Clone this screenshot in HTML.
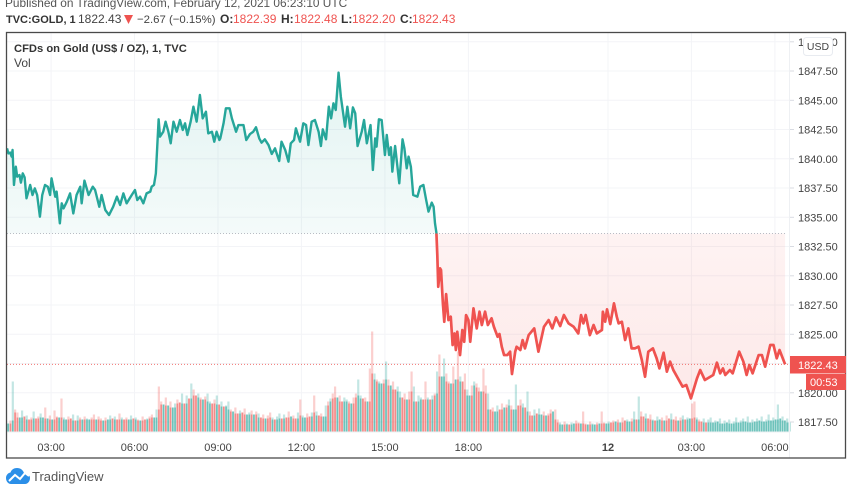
<!DOCTYPE html>
<html lang="en">
<head>
<meta charset="utf-8">
<title>CFDs on Gold</title>
<style>
html,body{margin:0;padding:0;background:#fff;}
body{width:852px;height:485px;overflow:hidden;position:relative;font-family:"Liberation Sans",sans-serif;}
svg{position:absolute;left:0;top:0;}
text{font-family:"Liberation Sans",sans-serif;}
</style>
</head>
<body>
<svg id="chart" width="852" height="485" viewBox="0 0 852 485">
  <defs>
    <linearGradient id="tealFill" gradientUnits="userSpaceOnUse" x1="0" y1="72" x2="0" y2="234">
      <stop offset="0" stop-color="#26a69a" stop-opacity="0.13"/>
      <stop offset="1" stop-color="#26a69a" stop-opacity="0.05"/>
    </linearGradient>
    <linearGradient id="redFill" gradientUnits="userSpaceOnUse" x1="0" y1="234" x2="0" y2="400">
      <stop offset="0" stop-color="#ef5350" stop-opacity="0.07"/>
      <stop offset="1" stop-color="#ef5350" stop-opacity="0.13"/>
    </linearGradient>
    <clipPath id="aboveBase"><rect id="aboveRect" x="7" y="33" width="782" height="200"/></clipPath>
    <clipPath id="belowBase"><rect id="belowRect" x="7" y="233" width="782" height="198"/></clipPath>
  </defs>

  <text x="5" y="7" font-size="11.85" fill="#555">Published on TradingView.com, February 12, 2021 06:23:10 UTC</text>
  <g font-size="12">
    <text x="6" y="23" font-size="11" font-weight="bold" fill="#333">TVC:GOLD, 1</text>
    <text x="78" y="23" fill="#444">1822.43</text>
    <path d="M124 15h9l-4.500 9z" fill="#ef5350"/>
    <text x="137" y="23" font-size="11.400" fill="#444">−2.67 (−0.15%)</text>
    <text x="220" y="23" font-weight="bold" fill="#333">O:</text>
    <text x="233" y="23" fill="#ef5350">1822.39</text>
    <text x="281" y="23" font-weight="bold" fill="#333">H:</text>
    <text x="294" y="23" fill="#ef5350">1822.48</text>
    <text x="341" y="23" font-weight="bold" fill="#333">L:</text>
    <text x="352" y="23" fill="#ef5350">1822.20</text>
    <text x="400" y="23" font-weight="bold" fill="#333">C:</text>
    <text x="412" y="23" fill="#ef5350">1822.43</text>
  </g>

  <g id="grid"></g>
  <g id="volumes"></g>
  <path id="areaTeal" fill="url(#tealFill)" clip-path="url(#aboveBase)"/>
  <path id="areaRed" fill="url(#redFill)" clip-path="url(#belowBase)"/>
  <line id="baseLine" x1="7" x2="786" stroke="#b8bcc4" stroke-width="1" stroke-dasharray="1 2"/>
  <line id="lastLine" x1="7" x2="789" stroke="#ef5350" stroke-opacity="0.8" stroke-width="1" stroke-dasharray="1 2"/>
  <path id="lineTeal" fill="none" stroke="#26a69a" stroke-width="2.400" stroke-linejoin="round" clip-path="url(#aboveBase)"/>
  <path id="lineRed" fill="none" stroke="#ef5350" stroke-width="2.700" stroke-linejoin="round" clip-path="url(#belowBase)"/>

  <line x1="789.500" x2="789.500" y1="33" y2="458" stroke="#eef0f3" stroke-width="1"/>
  <line x1="7" x2="789" y1="432" y2="432" stroke="#eef0f3" stroke-width="1"/>
  <g id="priceAxis"></g>
  <g id="timeAxis"></g>

  <rect x="6.500" y="32.500" width="839" height="425.500" fill="none" stroke="#4a4a4a" stroke-width="1.300"/>

  <text x="14" y="52" font-size="11.200" font-weight="bold" fill="#333">CFDs on Gold (US$ / OZ), 1, TVC</text>
  <text x="14" y="67" font-size="12" fill="#444">Vol</text>

  <g>
    <rect x="803.500" y="37.500" width="29" height="18" rx="3" fill="#fff" stroke="#e8ebf0"/>
    <text x="818" y="50" font-size="10.500" fill="#444" text-anchor="middle">USD</text>
  </g>

  <g>
    <rect x="790" y="356" width="56" height="17.500" fill="#ef5350"/>
    <text x="798" y="369" font-size="11" fill="#fff">1822.43</text>
    <rect x="806" y="374" width="40" height="16" fill="#ef5350"/>
    <text x="810" y="386" font-size="11" fill="#fff">00:53</text>
  </g>

  <g>
    <path d="M6 478c0-3 2-5 4.500-5.500C11.500 469.500 14 468 17 468c3.500 0 6 2 7 5 3 0 6 2 6 5 0 3-2 6-5 6H11c-3 0-5-3-5-6z" fill="#2b8fe8"/>
    <path d="M9 481l6-6 5 4 5-6 4 3" fill="none" stroke="#fff" stroke-width="2"/>
    <text x="32" y="481" font-size="13" fill="#555">TradingView</text>
  </g>
</svg>

<script>
// Chart values
const priceMinutes = [0,3,7,10,12,15,19,22,27,30,34,38,42,50,55,60,65,71,76,82,88,93,96,104,107,114,118,122,129,136,143,150,158,161,167,176,185,190,199,204,212,220,229,237,244,251,258,269,276,281,287,294,301,309,312,317,321,324,327,330,337,342,348,353,359,366,373,379,384,389,396,402,409,416,422,429,434,442,447,452,458,
460,467,472,480,485,494,499,510,516,524,531,537,544,549,556,564,571,578,587,592,600,607,612,619,623,632,639,645,650,657,664,672,677,681,688,694,699,704,709,715,720,729,734,740,746,751,756,765,770,776,784,789,794,797,802,808,815,819,824,828,831,837,846,853,857,862,866,871,876,885,891,898,904,909,916,920,923,926,
928,930,934,936,940,943,947,952,957,961,965,968,971,977,982,986,990,995,999,1006,1013,1019,1024,1031,1037,1045,1050,1058,1062,1067,1072,1079,1085,1089,1096,1099,1107,1112,1117,1125,1137,1146,1158,1168,1176,1184,1193,1201,1211,1222,1232,1238,1243,1248,1257,1265,1272,1283,1285,1290,1294,1301,1309,1315,
1319,1326,1333,1340,1347,1354,1362,1369,1376,1383,1393,1401,1407,1416,1423,1430,1437,1447,1457,1465,1475,1488,1495,1505,1523,1531,1538,1544,1549,1559,1565,1579,1588,1595,1601,1608,1621,1628,1635,1646,1653,1660,1666,1673,1678];

const priceValues = [1840.89,1840.46,1840.52,1840.18,1840.75,1837.76,1839.32,1838.47,1838.61,1837.96,1838.75,1838.41,1836.62,1837.76,1836.90,1837.47,1836.90,1835.05,1836.90,1837.76,1837.61,1836.90,1838.33,1836.76,1837.19,1834.48,1836.19,1835.76,1836.33,1837.04,1835.33,1836.90,1837.61,1836.19,1838.13,1836.90,1837.61,1837.33,1835.90,1836.90,1835.62,1835.19,1835.90,1836.76,1836.05,1837.04,1836.19,1836.90,1837.33,1836.47,1836.76,1836.19,1837.04,1837.19,1837.61,1837.76,1838.75,1841.03,1843.37,1841.89,1842.31,1843.17,1842.31,1841.32,1843.17,1842.31,1843.31,1842.46,1843.03,1842.03,1843.17,1844.45,1843.17,1845.45,1843.45,1844.02,1842.17,1842.31,1841.46,1842.31,1841.60,
1841.74,1843.03,1844.31,1844.31,1843.45,1842.31,1842.88,1842.88,1841.60,1842.11,1842.31,1842.69,1841.74,1841.37,1841.66,1841.17,1840.41,1840.89,1839.81,1841.46,1840.75,1839.75,1841.32,1841.60,1842.60,1841.46,1843.03,1842.88,1841.17,1843.17,1843.31,1842.31,1841.09,1842.51,1841.66,1844.45,1843.45,1844.74,1844.17,1847.36,1845.30,1842.74,1844.45,1842.60,1844.39,1843.88,1841.09,1842.31,1843.31,1841.32,1842.88,1839.04,1841.74,1841.03,1843.37,1843.31,1840.32,1842.03,1840.32,1840.98,1838.90,1841.09,1837.90,1841.66,1840.89,1839.18,1840.18,1839.32,1836.90,1836.76,1837.61,1837.76,1836.47,1835.48,1836.25,1835.90,1834.48,1833.68,
1831.77,1829.06,1830.63,1830.49,1827.64,1826.07,1828.43,1826.21,1826.50,1824.08,1825.07,1823.65,1825.22,1823.22,1825.36,1824.36,1826.64,1826.21,1824.36,1827.21,1825.50,1826.93,1825.79,1826.93,1825.79,1826.36,1825.64,1824.79,1825.02,1823.93,1823.22,1823.22,1823.51,1821.60,1823.51,1823.93,1823.65,1824.50,1823.79,1824.93,1825.50,1823.51,1825.64,1826.21,1825.50,1826.44,1825.70,1826.64,1825.93,1825.64,1825.07,1826.64,1825.93,1826.64,1824.93,1825.79,1825.07,1825.36,1826.93,1826.07,1827.13,1825.87,1827.64,1826.50,
1825.93,1826.07,1824.51,1825.50,1823.79,1823.79,1823.94,1822.80,1821.37,1823.51,1823.79,1822.94,1822.08,1823.42,1821.80,1822.66,1821.94,1821.23,1820.52,1820.66,1819.52,1821.23,1821.94,1821.09,1821.52,1822.57,1821.66,1822.08,1821.52,1821.94,1821.66,1823.51,1822.66,1821.52,1822.37,1821.66,1823.22,1823.22,1822.23,1824.08,1824.08,1822.94,1823.65,1822.94,1822.43];

const volumeValues = [8,11,50,22,
19,14,21,15,16,12,14,20,13,15,18,14,24,13,16,12,21,15,14,33,
14,12,15,13,17,11,16,14,12,15,13,12,14,17,12,15,13,11,14,12,16,13,15,12,18,14,12,14,12,16,13,14,12,11,15,12,13,15,17,14,
22,45,30,27,34,26,30,24,28,32,29,38,28,36,33,48,42,36,38,34,32,35,38,30,28,32,36,27,30,25,26,30,22,20,24,18,21,19,23,17,19,21,17,20,18,
14,17,13,16,19,14,12,15,18,13,17,14,20,15,16,13,19,32,16,14,18,15,19,36,20,16,18,15,
26,30,33,38,45,34,36,30,34,32,30,28,34,38,52,36,33,34,30,63,100,58,52,50,48,52,70,52,46,50,42,45,40,
34,38,32,40,60,45,30,36,34,32,50,34,32,36,38,60,77,55,73,58,50,48,65,52,80,55,50,58,42,36,46,50,48,44,40,63,46,38,
22,24,20,26,22,28,24,27,32,26,22,47,26,32,28,24,40,20,16,22,18,23,17,20,16,18,22,20,22,12,9,7,10,8,7,9,8,11,9,8,20,8,7,10,8,7,9,8,20,9,8,10,9,11,10,12,9,14,11,12,10,13,20,12,35,20,15,18,13,17,12,11,15,12,14,11,16,13,18,12,15,11,14,16,12,14,13,28,30,14,12,10,13,9,12,14,9,11,10,13,8,11,9,12,8,10,14,9,11,13,10,15,9,12,10,13,11,15,10,12,17,11,14,12,27,13,15,11,13,9];

const volumeDirections = "ududduududdudduudududduduuddudududuuddudduduududdudduudududdudduuddududuuddudududdudu" +
  "duuddududuududdudduudududdudduduududdudduduuddududduududdudduududduuddudduduudududduud" +
  "dudduduuddudududuuddudududduududduddudduuddududuuddududduduududdudduududuuddudduduudud" +
  "duuddududduudududdudduduududduddududuudduddudu";

const priceTicks = [1850,1847.5,1845,1842.5,1840,1837.5,1835,1832.5,1830,1827.5,1825,1820,1817.5];
const gridPrices = [1850,1847.5,1845,1842.5,1840,1837.5,1835,1832.5,1830,1827.5,1825,1822.5,1820,1817.5];
const timeLabels = ["03:00","06:00","09:00","12:00","15:00","18:00","12","03:00","06:00"];
const timeMinutes = [95,275,455,635,815,995,1296,1476,1656];
const baselinePrice = 1833.61;
const lastPrice = 1822.43;
const volumeBinMinutes = 5;

// Axis functions
function xScale(minute) { return 7 + minute * 0.4637; }
function yScale(price) { return 422 - (price - 1817.5) * 11.7; }
function volScale(volume) { return 431.5 - volume; }

const NS = "http://www.w3.org/2000/svg";
const baseY = yScale(baselinePrice);

// Baseline and last price lines
document.getElementById("baseLine").setAttribute("y1", baseY);
document.getElementById("baseLine").setAttribute("y2", baseY);
document.getElementById("lastLine").setAttribute("y1", yScale(lastPrice));
document.getElementById("lastLine").setAttribute("y2", yScale(lastPrice));
document.getElementById("aboveRect").setAttribute("height", baseY - 33);
document.getElementById("belowRect").setAttribute("y", baseY);
document.getElementById("belowRect").setAttribute("height", 431 - baseY);

// Price line and baseline areas
let lineD = "";
for (let i = 0; i < priceValues.length; i++) {
  lineD += (i ? "L" : "M") + xScale(priceMinutes[i]).toFixed(2) + " " + yScale(priceValues[i]).toFixed(2);
}
const lastX = xScale(priceMinutes[priceValues.length - 1]).toFixed(2);
const areaD = lineD + "L" + lastX + " " + baseY + "L" + xScale(priceMinutes[0]).toFixed(2) + " " + baseY + "Z";
document.getElementById("lineTeal").setAttribute("d", lineD);
document.getElementById("lineRed").setAttribute("d", lineD);
document.getElementById("areaTeal").setAttribute("d", areaD);
document.getElementById("areaRed").setAttribute("d", areaD);

// Grid lines
const gridGroup = document.getElementById("grid");
gridPrices.forEach(function (p) {
  const l = document.createElementNS(NS, "line");
  l.setAttribute("x1", 7);
  l.setAttribute("x2", 789);
  l.setAttribute("y1", yScale(p).toFixed(1));
  l.setAttribute("y2", yScale(p).toFixed(1));
  l.setAttribute("stroke", "#f3f4f7");
  
  
  gridGroup.appendChild(l);
});
timeMinutes.forEach(function (m) {
  const l = document.createElementNS(NS, "line");
  l.setAttribute("x1", xScale(m).toFixed(1));
  l.setAttribute("x2", xScale(m).toFixed(1));
  l.setAttribute("y1", 33);
  l.setAttribute("y2", 432);
  l.setAttribute("stroke", "#f3f4f7");
  
  
  gridGroup.appendChild(l);
});

// Volume bars: pale full-height bar with a denser core shared with its neighbours
const volGroup = document.getElementById("volumes");
volumeValues.forEach(function (v, i) {
  const up = volumeDirections.charAt(i) !== "d";
  const color = up ? "#26a69a" : "#ef5350";
  const x = xScale((i + 0.5) * volumeBinMinutes);
  const left = volumeValues[Math.max(0, i - 1)];
  const right = volumeValues[Math.min(volumeValues.length - 1, i + 1)];
  const core = Math.min(v, left, right);

  const bar = document.createElementNS(NS, "rect");
  bar.setAttribute("x", (x - 1.1).toFixed(2));
  bar.setAttribute("width", 2.2);
  bar.setAttribute("y", volScale(v).toFixed(2));
  bar.setAttribute("height", (431.5 - volScale(v)).toFixed(2));
  bar.setAttribute("fill", color);
  bar.setAttribute("fill-opacity", 0.28);
  
  
  volGroup.appendChild(bar);

  const coreBar = document.createElementNS(NS, "rect");
  coreBar.setAttribute("x", (x - 0.8).toFixed(2));
  coreBar.setAttribute("width", 1.6);
  coreBar.setAttribute("y", volScale(core).toFixed(2));
  coreBar.setAttribute("height", (431.5 - volScale(core)).toFixed(2));
  coreBar.setAttribute("fill", color);
  coreBar.setAttribute("fill-opacity", 0.55);
  
  
  volGroup.appendChild(coreBar);
});

// Price axis
const priceGroup = document.getElementById("priceAxis");
priceTicks.forEach(function (p) {
  const y = yScale(p);
  const tick = document.createElementNS(NS, "line");
  tick.setAttribute("x1", 790);
  tick.setAttribute("x2", 794);
  tick.setAttribute("y1", y.toFixed(1));
  tick.setAttribute("y2", y.toFixed(1));
  tick.setAttribute("stroke", "#d8dbe2");
  
  
  priceGroup.appendChild(tick);

  const t = document.createElementNS(NS, "text");
  t.setAttribute("x", 798);
  t.setAttribute("y", (y + 4).toFixed(1));
  t.setAttribute("font-size", "11");
  t.setAttribute("fill", "#444");
  
  
  t.textContent = p.toFixed(2);
  priceGroup.appendChild(t);
});

// Time axis
const timeGroup = document.getElementById("timeAxis");
timeLabels.forEach(function (label, i) {
  const t = document.createElementNS(NS, "text");
  t.setAttribute("x", xScale(timeMinutes[i]).toFixed(1));
  t.setAttribute("y", 451);
  t.setAttribute("font-size", "11");
  t.setAttribute("fill", "#444");
  t.setAttribute("text-anchor", "middle");
  if (label === "12") {
    t.setAttribute("font-weight", "bold");
  }
  
  
  t.textContent = label;
  timeGroup.appendChild(t);
});
</script>
</body>
</html>
